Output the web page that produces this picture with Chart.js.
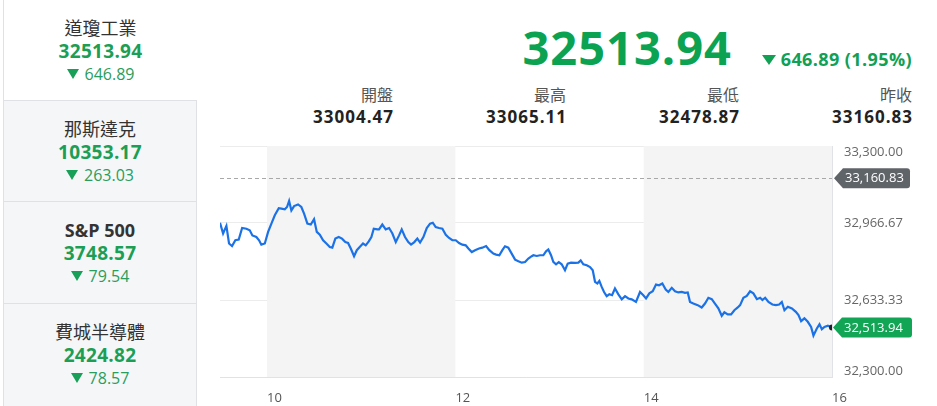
<!DOCTYPE html>
<html>
<head>
<meta charset="utf-8">
<script src="https://cdn.jsdelivr.net/npm/chart.js@4.4.1/dist/chart.umd.min.js"></script>
<style>
  body { margin: 0; width: 937px; height: 406px; overflow: hidden; background: #fff; position: relative;
         font-family: "Open Sans", "Noto Sans CJK TC", sans-serif; }
  .item { position: absolute; left: 3px; width: 194px; box-sizing: border-box; background: #f5f6f8;
          border-left: 1px solid #dfe1e5; border-right: 1px solid #dfe1e5; border-top: 1px solid #dfe1e5; text-align: center; }
  .item.active { background: #fff; border-right: none; border-top: none; }
  .item div { position: absolute; left: 0; right: 0; line-height: 20px; }
  .t { top: 18px; font-size: 18px; color: #333; }
  .t.b { font-weight: 700; }
  .v { top: 41px; font-size: 19px; font-weight: 700; color: #1c9e55; letter-spacing: 0.3px; }
  .c { top: 64px; font-size: 16px; color: #2a9d5c; }
  .tri { display: inline-block; width: 0; height: 0; border-left: 6px solid transparent; border-right: 6px solid transparent;
         border-top: 10px solid #18a058; margin-right: 6px; vertical-align: 1px; }
  .big { position: absolute; right: 205px; top: 24px; font-size: 47px; line-height: 46px; font-weight: 700; color: #0ba352; letter-spacing: 1px; }
  .chg { position: absolute; right: 25px; top: 48px; font-size: 18px; line-height: 22px; font-weight: 700; color: #12a055; letter-spacing: 0.4px; }
  .lab { position: absolute; top: 85px; font-size: 16px; line-height: 20px; color: #555; text-align: right; }
  .val { position: absolute; top: 107px; font-size: 17px; line-height: 20px; font-weight: 700; color: #222; text-align: right; letter-spacing: 1px; margin-right: -1px; }
  #wrap { position: absolute; left: 200px; top: 140px; width: 737px; height: 266px; }
</style>
</head>
<body>
<div id="side"></div>
<div class="big" id="big"></div>
<div class="chg" id="chg"></div>
<div id="stats"></div>
<div id="wrap"><canvas id="c"></canvas></div>
<script>
// side panel indices
const indexNames = ['道瓊工業', '那斯達克', 'S&P 500', '費城半導體'];
const indexValues = ['32513.94', '10353.17', '3748.57', '2424.82'];
const indexChanges = ['646.89', '263.03', '79.54', '78.57'];

// header
const lastPrice = 32513.94;
const change = '646.89 (1.95%)';
const statLabels = ['開盤', '最高', '最低', '昨收'];
const statValues = ['33004.47', '33065.11', '32478.87', '33160.83'];
const prevClose = 33160.83;

// intraday series (x = day of month)
const times = [
  9.5, 9.533, 9.568, 9.596, 9.628, 9.663, 9.699, 9.735, 9.780, 9.816,
  9.844, 9.886, 9.915, 9.939, 9.976, 10.011, 10.046, 10.082, 10.124, 10.152,
  10.188, 10.212, 10.234, 10.258, 10.287, 10.329, 10.364, 10.393, 10.428, 10.464,
  10.499, 10.528, 10.560, 10.595, 10.630, 10.666, 10.693, 10.725, 10.761, 10.796,
  10.831, 10.860, 10.889, 10.924, 10.953, 10.984, 11.019, 11.048, 11.080, 11.108,
  11.133, 11.171,
  11.189, 11.224, 11.260, 11.296, 11.331, 11.367, 11.402, 11.430, 11.465, 11.500,
  11.529, 11.564, 11.596, 11.625, 11.660, 11.696, 11.731, 11.760, 11.791, 11.826,
  11.862, 11.898, 11.933, 11.968, 12.004, 12.039, 12.074, 12.110, 12.138, 12.174,
  12.209, 12.251, 12.286, 12.326, 12.361, 12.403, 12.432, 12.467, 12.499, 12.527,
  12.562, 12.598, 12.634, 12.669, 12.705, 12.740, 12.775, 12.811,
  12.828, 12.864, 12.899, 12.934, 12.963, 12.987, 13.016, 13.040, 13.069, 13.098,
  13.129, 13.164, 13.193, 13.228, 13.271, 13.306, 13.331, 13.359, 13.395, 13.430,
  13.459, 13.483, 13.508, 13.529, 13.554, 13.579, 13.607, 13.635, 13.664, 13.695,
  13.731, 13.767, 13.802, 13.837, 13.873, 13.918, 13.961, 13.996, 14.025, 14.060,
  14.096, 14.131, 14.163, 14.198, 14.234, 14.262, 14.298, 14.333, 14.368, 14.404,
  14.439, 14.468, 14.492,
  14.527, 14.574, 14.616, 14.651, 14.687, 14.723, 14.757, 14.793, 14.829, 14.857,
  14.893, 14.928, 14.963, 14.999, 15.024, 15.059, 15.095, 15.130, 15.165, 15.202,
  15.237, 15.261, 15.290, 15.325, 15.367, 15.404, 15.439, 15.467, 15.495, 15.531,
  15.574, 15.616, 15.644, 15.672, 15.707, 15.743, 15.778, 15.803, 15.839, 15.867,
  15.892, 15.920, 15.956, 16.0
];
const dowValues = [
  32968, 32921, 32954, 32878, 32867, 32892, 32895, 32945, 32942, 32935,
  32913, 32906, 32892, 32873, 32878, 32928, 32964, 33000, 33031, 33029,
  33026, 33036, 33062, 33021, 33040, 33047, 33036, 33007, 32964, 32960,
  32983, 32928, 32916, 32892, 32878, 32863, 32860, 32899, 32906, 32899,
  32884, 32880, 32856, 32823, 32849, 32863, 32878, 32870, 32887, 32906,
  32942, 32939,
  32939, 32960, 32939, 32945, 32921, 32884, 32913, 32939, 32906, 32884,
  32873, 32884, 32899, 32882, 32906, 32945, 32964, 32968, 32949, 32945,
  32942, 32916, 32902, 32892, 32892, 32880, 32873, 32870, 32856, 32841,
  32849, 32856, 32860, 32867, 32849, 32834, 32830, 32827, 32849, 32866,
  32860, 32834, 32808, 32801, 32795, 32798, 32813, 32823,
  32827, 32824, 32827, 32827, 32844, 32852, 32827, 32798, 32788, 32797,
  32788, 32762, 32791, 32795, 32794, 32795, 32805, 32788, 32784, 32776,
  32762, 32712, 32705, 32716, 32690, 32668, 32650, 32658, 32654, 32683,
  32658, 32636, 32650, 32640, 32636, 32625, 32668, 32654, 32640, 32662,
  32671, 32700, 32697, 32705, 32679, 32668, 32686, 32671, 32666, 32668,
  32664, 32666, 32625,
  32618, 32611, 32601, 32618, 32643, 32637, 32618, 32597, 32565, 32580,
  32571, 32571, 32589, 32601, 32611, 32643, 32651, 32671, 32662, 32637,
  32643, 32633, 32643, 32625, 32614, 32611, 32614, 32625, 32589, 32604,
  32597, 32582, 32568, 32542, 32554, 32539, 32517, 32479, 32510, 32528,
  32507, 32517, 32522, 32513.94
];
const xTicks = [10, 12, 14, 16];
const yTicks = [32300, 32633.33, 32966.67, 33300];
const shadedDays = [[10, 12], [14, 16]];

// ---- html parts ----
const side = document.getElementById('side');
const tops = [0, 100, 201, 303];
const heights = [100, 101, 102, 103];
indexNames.forEach((n, i) => {
  const d = document.createElement('div');
  d.className = 'item' + (i === 0 ? ' active' : '');
  d.style.top = tops[i] + 'px';
  d.style.height = heights[i] + 'px';
  d.innerHTML = `<div class="t${/^[A-Z]/.test(n) ? ' b' : ''}">${n.replace('&', '&amp;')}</div>` +
    `<div class="v">${indexValues[i]}</div>` +
    `<div class="c"><span class="tri"></span>${indexChanges[i]}</div>`;
  side.appendChild(d);
});
document.getElementById('big').textContent = lastPrice.toFixed(2);
document.getElementById('chg').innerHTML =
  '<span class="tri" style="border-top-color:#12a055;border-left-width:7px;border-right-width:7px;border-top-width:10px;margin-right:5px"></span>' + change;
const stats = document.getElementById('stats');
const rights = [544, 371, 198, 25];
statLabels.forEach((l, i) => {
  stats.innerHTML += `<div class="lab" style="right:${rights[i]}px">${l}</div>` +
    `<div class="val" style="right:${rights[i]}px">${statValues[i]}</div>`;
});

// ---- chart ----
const fmt = v => v.toLocaleString('en-US', { minimumFractionDigits: 2, maximumFractionDigits: 2 });
const lastY = yTicks.length - 1;

function tag(ctx, x, y, w, color, text) {
  const h = 20, tip = 9, r = 3;
  ctx.save();
  ctx.fillStyle = color;
  ctx.beginPath();
  ctx.moveTo(x, y);
  ctx.lineTo(x + tip, y - h / 2);
  ctx.lineTo(x + w - r, y - h / 2);
  ctx.quadraticCurveTo(x + w, y - h / 2, x + w, y - h / 2 + r);
  ctx.lineTo(x + w, y + h / 2 - r);
  ctx.quadraticCurveTo(x + w, y + h / 2, x + w - r, y + h / 2);
  ctx.lineTo(x + tip, y + h / 2);
  ctx.closePath();
  ctx.fill();
  ctx.fillStyle = '#fff';
  ctx.font = '13px "Open Sans", sans-serif';
  ctx.textBaseline = 'middle';
  ctx.textAlign = 'left';
  ctx.fillText(text, x + 11, y + 0.5);
  ctx.restore();
}

const overlay = {
  id: 'overlay',
  beforeDatasetsDraw(chart) {
    const { ctx, chartArea, scales } = chart;
    ctx.save();
    ctx.fillStyle = '#f4f4f5';
    shadedDays.forEach(([a, b]) => {
      const x0 = scales.x.getPixelForValue(a), x1 = scales.x.getPixelForValue(b);
      ctx.fillRect(x0, chartArea.top, x1 - x0, chartArea.bottom - chartArea.top);
    });
    const py = scales.y.getPixelForValue(prevClose);
    ctx.strokeStyle = '#a8a8a8';
    ctx.lineWidth = 1;
    ctx.setLineDash([4, 3]);
    ctx.beginPath();
    ctx.moveTo(chartArea.left, Math.round(py) + 0.5);
    ctx.lineTo(chartArea.right, Math.round(py) + 0.5);
    ctx.stroke();
    ctx.restore();
  },
  afterDraw(chart) {
    const { ctx, chartArea, scales } = chart;
    tag(ctx, chartArea.right + 2, scales.y.getPixelForValue(prevClose), 76, '#5f6469', fmt(prevClose));
    tag(ctx, chartArea.right + 1, scales.y.getPixelForValue(lastPrice), 79, '#13a556', fmt(lastPrice));
  }
};

new Chart(document.getElementById('c'), {
  type: 'line',
  data: {
    datasets: [{
      data: times.map((t, i) => ({ x: t, y: dowValues[i] })),
      borderColor: '#1b72e6',
      borderWidth: 2.2,
      tension: 0,
      fill: false,
      pointRadius: ctx => ctx.dataIndex === times.length - 1 ? 3 : 0,
      pointBackgroundColor: '#222',
      pointBorderWidth: 0
    }]
  },
  options: {
    responsive: true,
    maintainAspectRatio: false,
    animation: false,
    layout: { padding: { left: 20, top: 6, right: 0, bottom: 0 } },
    plugins: { legend: { display: false }, tooltip: { enabled: false } },
    scales: {
      x: {
        type: 'linear',
        min: 9.5,
        max: 16,
        afterBuildTicks: s => { s.ticks = xTicks.map(v => ({ value: v })); },
        afterFit: s => { s.height = 29; s.paddingLeft = 0; s.paddingRight = 0; },
        grid: { display: false },
        border: { display: true, color: '#e1e2e8' },
        ticks: { align: 'start', padding: 5, color: '#555', font: { size: 13, family: '"Open Sans", sans-serif' } }
      },
      y: {
        position: 'right',
        min: 32300,
        max: 33300,
        afterBuildTicks: s => { s.ticks = yTicks.map(v => ({ value: v })); },
        afterFit: s => { s.width = 105; s.paddingTop = 0; s.paddingBottom = 0; },
        grid: { color: '#ececec', drawTicks: false },
        border: { display: true, color: '#e1e2e8' },
        ticks: {
          padding: 12,
          color: '#666',
          font: ctx => ({
            size: 13,
            family: '"Open Sans", sans-serif',
            lineHeight: (ctx.index === 0 || ctx.index === lastY) ? '12px' : 1.2
          }),
          // keep the top and bottom labels inside the plot
          callback: (v, i) => i === lastY ? ['', fmt(v)] : i === 0 ? [fmt(v), ''] : fmt(v)
        }
      }
    }
  },
  plugins: [overlay]
});
</script>
</body>
</html>
